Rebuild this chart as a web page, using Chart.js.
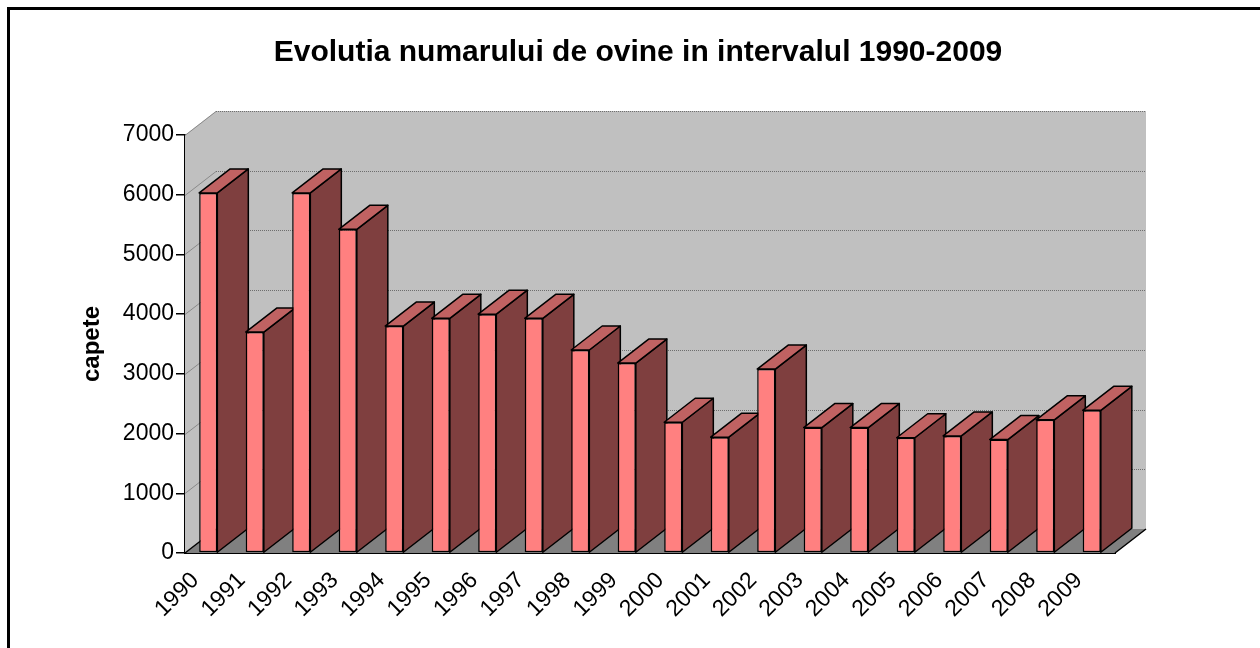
<!DOCTYPE html>
<html>
<head>
<meta charset="utf-8">
<title>Evolutia numarului de ovine</title>
<script src="https://cdn.jsdelivr.net/npm/chart.js@4.4.1/dist/chart.umd.min.js"></script>
<style>
    html, body { margin: 0; padding: 0; background: #fff; }
    #wrap { width: 1260px; height: 648px; }
</style>
</head>
<body>
<div id="wrap"><canvas id="chart" width="1260" height="648"></canvas></div>
<script>
// Data
const years = ['1990', '1991', '1992', '1993', '1994', '1995', '1996', '1997', '1998', '1999',
               '2000', '2001', '2002', '2003', '2004', '2005', '2006', '2007', '2008', '2009'];
const sheep = [6030, 3700, 6030, 5420, 3800, 3930, 4000, 3930, 3400, 3180,
               2190, 1940, 3080, 2100, 2100, 1930, 1960, 1900, 2230, 2390];
const yMin = 0;
const yMax = 7000;
const yStep = 1000;

// 3D depth of the plot box
const DX = 31, DY = -24;
const FONT = '"Liberation Sans", Arial, sans-serif';

// Walls, floor and the side/top faces of the bars
const box3d = {
    id: 'box3d',
    beforeDraw(chart) {
        const ctx = chart.ctx;
        ctx.save();
        ctx.fillStyle = '#ffffff';
        ctx.fillRect(0, 0, chart.width, chart.height);
        ctx.restore();
    },
    beforeDatasetsDraw(chart) {
        const ctx = chart.ctx;
        const { left, right, top, bottom } = chart.chartArea;
        const y = chart.scales.y;
        ctx.save();

        // left wall
        ctx.fillStyle = '#c0c0c0';
        ctx.beginPath();
        ctx.moveTo(left, top);
        ctx.lineTo(left + DX, top + DY);
        ctx.lineTo(left + DX, bottom + DY);
        ctx.lineTo(left, bottom);
        ctx.closePath();
        ctx.fill();

        // back wall
        ctx.fillRect(left + DX, top + DY, right - left, bottom - top);

        // floor
        ctx.fillStyle = '#808080';
        ctx.beginPath();
        ctx.moveTo(left, bottom);
        ctx.lineTo(left + DX, bottom + DY);
        ctx.lineTo(right + DX, bottom + DY);
        ctx.lineTo(right, bottom);
        ctx.closePath();
        ctx.fill();
        ctx.strokeStyle = '#000000';
        ctx.lineWidth = 1.5;
        ctx.beginPath();
        ctx.moveTo(left, bottom);
        ctx.lineTo(left + DX, bottom + DY);
        ctx.moveTo(right, bottom);
        ctx.lineTo(right + DX, bottom + DY);
        ctx.stroke();

        // grid lines on the walls
        for (let v = yMin + yStep; v <= yMax; v += yStep) {
            const py = Math.round(y.getPixelForValue(v)) + 0.5;
            ctx.strokeStyle = '#8a8a8a';
            ctx.lineWidth = 1;
            ctx.setLineDash([]);
            ctx.beginPath();
            ctx.moveTo(left, py);
            ctx.lineTo(left + DX, py + DY);
            ctx.stroke();
            ctx.strokeStyle = '#6e6e6e';
            ctx.setLineDash([1, 1]);
            ctx.beginPath();
            ctx.moveTo(left + DX, py + DY);
            ctx.lineTo(right + DX, py + DY);
            ctx.stroke();
        }
        ctx.setLineDash([]);

        // side and top faces, left to right
        const bars = chart.getDatasetMeta(0).data;
        ctx.strokeStyle = '#000000';
        ctx.lineWidth = 1.5;
        ctx.lineJoin = 'round';
        bars.forEach(bar => {
            const x0 = bar.x - bar.width / 2;
            const x1 = bar.x + bar.width / 2;
            const yt = bar.y;
            const yb = bar.base;

            ctx.fillStyle = '#7f3f3f';
            ctx.beginPath();
            ctx.moveTo(x1, yb);
            ctx.lineTo(x1 + DX, yb + DY);
            ctx.lineTo(x1 + DX, yt + DY);
            ctx.lineTo(x1, yt);
            ctx.closePath();
            ctx.fill();
            ctx.stroke();

            ctx.fillStyle = '#c06262';
            ctx.beginPath();
            ctx.moveTo(x0, yt);
            ctx.lineTo(x0 + DX, yt + DY);
            ctx.lineTo(x1 + DX, yt + DY);
            ctx.lineTo(x1, yt);
            ctx.closePath();
            ctx.fill();
            ctx.stroke();
        });
        ctx.restore();
    },
    afterDraw(chart) {
        // outer frame (only top and left edges are inside the picture)
        const ctx = chart.ctx;
        ctx.save();
        ctx.strokeStyle = '#000000';
        ctx.lineWidth = 3;
        ctx.beginPath();
        ctx.moveTo(8.5, chart.height);
        ctx.lineTo(8.5, 8.5);
        ctx.lineTo(chart.width, 8.5);
        ctx.stroke();
        ctx.restore();
    }
};

const ctx = document.getElementById('chart').getContext('2d');
new Chart(ctx, {
    type: 'bar',
    data: {
        labels: years,
        datasets: [{
            label: 'capete',
            data: sheep,
            backgroundColor: '#ff8080',
            borderColor: '#000000',
            borderWidth: 1.5,
            borderSkipped: false,
            barPercentage: 0.39,
            categoryPercentage: 1.0
        }]
    },
    options: {
        responsive: false,
        animation: false,
        events: [],
        layout: {
            padding: { top: 0, right: 0, bottom: 0, left: 16 }
        },
        plugins: {
            legend: { display: false },
            tooltip: { enabled: false },
            title: {
                display: true,
                text: 'Evolutia numarului de ovine in intervalul 1990-2009',
                color: '#000000',
                font: { family: FONT, size: 30, weight: 'bold' },
                padding: { top: 35, bottom: 64 }
            }
        },
        scales: {
            x: {
                grid: { display: false },
                border: { display: true, color: '#000000', width: 2 },
                ticks: {
                    autoSkip: false,
                    minRotation: 45,
                    maxRotation: 45,
                    labelOffset: -13,
                    padding: 6,
                    color: '#000000',
                    font: { family: FONT, size: 23 }
                },
                afterFit(scale) { scale.height = 95; }
            },
            y: {
                min: yMin,
                max: yMax,
                ticks: {
                    stepSize: yStep,
                    padding: 2,
                    color: '#000000',
                    font: { family: FONT, size: 23 },
                    callback: value => String(value)
                },
                grid: {
                    drawOnChartArea: false,
                    drawTicks: true,
                    tickLength: 9,
                    color: '#000000',
                    lineWidth: 1.5
                },
                border: { display: true, color: '#000000', width: 2 },
                title: {
                    display: true,
                    text: 'capete',
                    color: '#000000',
                    font: { family: FONT, size: 24, weight: 'bold' },
                    padding: { top: 61.6, bottom: 0 }
                },
                afterFit(scale) { scale.width = 169; }
            },
            // empty strip on the right, keeps the title centred on the page
            yRight: {
                position: 'right',
                grid: { display: false },
                border: { display: false },
                ticks: { display: false },
                afterFit(scale) { scale.width = 145; }
            }
        }
    },
    plugins: [box3d]
});
</script>
</body>
</html>
